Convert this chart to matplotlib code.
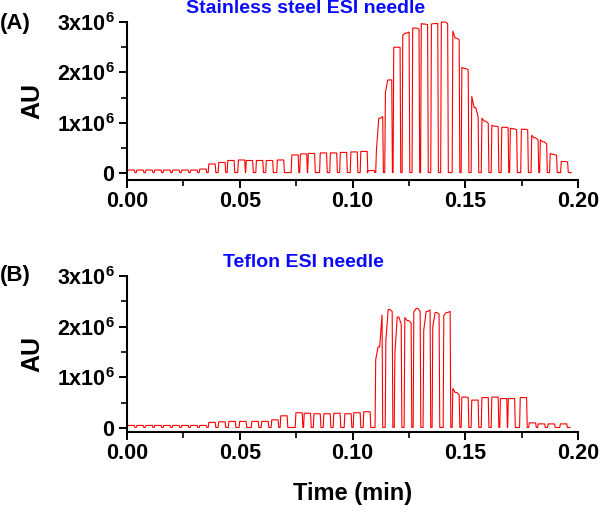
import matplotlib
matplotlib.use("Agg")
import matplotlib.pyplot as plt
import numpy as np

plt.rcParams['font.family'] = ['Liberation Sans', 'DejaVu Sans']
plt.rcParams['font.weight'] = 'bold'
plt.rcParams['mathtext.fontset'] = 'custom'
plt.rcParams['mathtext.rm'] = 'Liberation Sans:bold'
plt.rcParams['mathtext.bf'] = 'Liberation Sans:bold'
plt.rcParams['mathtext.default'] = 'bf'

# ---------------- data (time in min, intensity in units of 1e6) ----------------
# Panel A: stainless steel ESI needle -- pulse centre times, plateau start / end heights
a_times = [0.0018, 0.0058, 0.0098, 0.0137, 0.0177, 0.0217, 0.0257, 0.0297, 0.0337,
           0.0377, 0.0421, 0.0461, 0.0508, 0.0543, 0.0588, 0.0632, 0.0681, 0.0745,
           0.0783, 0.0818, 0.0871, 0.0916, 0.0960, 0.1007, 0.1051, 0.1082, 0.1120,
           0.1160, 0.1197, 0.1237, 0.1281, 0.1319, 0.1364, 0.1408, 0.1459, 0.1499,
           0.1543, 0.1588, 0.1632, 0.1676, 0.1714, 0.1763, 0.1809, 0.1847, 0.1891,
           0.1940]
a_start = [0.06, 0.06, 0.06, 0.06, 0.06, 0.06, 0.06, 0.06, 0.08,
           0.18, 0.21, 0.25, 0.26, 0.25, 0.25, 0.25, 0.26, 0.36,
           0.38, 0.39, 0.40, 0.40, 0.41, 0.42, 0.43, 0.05, 0.45,
           1.60, 2.50, 2.74, 2.88, 2.97, 2.96, 3.00, 2.82, 2.10,
           1.52, 1.09, 0.95, 0.91, 0.89, 0.87, 0.75, 0.66, 0.39,
           0.23]
a_mid = [0.06, 0.06, 0.06, 0.06, 0.06, 0.06, 0.06, 0.06, 0.08,
         0.18, 0.21, 0.25, 0.26, 0.25, 0.25, 0.25, 0.26, 0.36,
         0.38, 0.39, 0.40, 0.40, 0.41, 0.42, 0.43, 0.05, 1.09,
         1.85, 2.50, 2.78, 2.88, 2.96, 2.97, 3.00, 2.68, 2.08,
         1.30, 1.03, 0.93, 0.91, 0.88, 0.87, 0.70, 0.62, 0.37,
         0.23]
a_end = [0.06, 0.06, 0.06, 0.06, 0.06, 0.06, 0.06, 0.06, 0.08,
         0.18, 0.21, 0.25, 0.26, 0.25, 0.25, 0.25, 0.26, 0.36,
         0.38, 0.39, 0.40, 0.40, 0.41, 0.42, 0.43, 0.05, 1.12,
         1.85, 2.50, 2.80, 2.86, 2.95, 2.97, 2.97, 2.65, 2.05,
         1.12, 0.99, 0.92, 0.90, 0.86, 0.86, 0.66, 0.58, 0.35,
         0.22]
a_trace_end = 0.197

# Panel B: Teflon ESI needle
b_times = [0.0018, 0.0058, 0.0098, 0.0137, 0.0177, 0.0217, 0.0257, 0.0297, 0.0337,
           0.0377, 0.0421, 0.0466, 0.0514, 0.0568, 0.0612, 0.0656, 0.0696, 0.0763,
           0.0800, 0.0843, 0.0887, 0.0931, 0.0980, 0.1020, 0.1064, 0.1117, 0.1162,
           0.1202, 0.1246, 0.1286, 0.1330, 0.1370, 0.1419, 0.1459, 0.1499, 0.1543,
           0.1588, 0.1632, 0.1670, 0.1705, 0.1758, 0.1798, 0.1838, 0.1882, 0.1936]
b_start = [0.05, 0.05, 0.05, 0.05, 0.05, 0.05, 0.05, 0.05, 0.05,
           0.11, 0.12, 0.13, 0.13, 0.13, 0.13, 0.16, 0.24, 0.30,
           0.29, 0.28, 0.28, 0.29, 0.28, 0.30, 0.32, 1.35, 1.74,
           1.47, 2.18, 2.29, 1.93, 2.00, 2.22, 0.78, 0.61, 0.55,
           0.60, 0.61, 0.58, 0.58, 0.60, 0.10, 0.08, 0.08, 0.08]
b_mid = [0.05, 0.05, 0.05, 0.05, 0.05, 0.05, 0.05, 0.05, 0.05,
         0.11, 0.12, 0.13, 0.13, 0.13, 0.13, 0.16, 0.24, 0.30,
         0.29, 0.28, 0.28, 0.29, 0.28, 0.30, 0.32, 1.60, 2.34,
         2.19, 2.12, 2.36, 2.30, 2.28, 2.28, 0.70, 0.61, 0.55,
         0.60, 0.61, 0.58, 0.58, 0.60, 0.10, 0.08, 0.08, 0.08]
b_end = [0.05, 0.05, 0.05, 0.05, 0.05, 0.05, 0.05, 0.05, 0.05,
         0.11, 0.12, 0.13, 0.13, 0.13, 0.13, 0.16, 0.24, 0.30,
         0.29, 0.28, 0.28, 0.29, 0.28, 0.30, 0.32, 2.23, 2.30,
         2.05, 2.07, 2.30, 2.33, 2.25, 2.30, 0.65, 0.60, 0.55,
         0.60, 0.61, 0.58, 0.58, 0.60, 0.10, 0.08, 0.08, 0.08]
b_trace_end = 0.1965

baseline = 0.01
x_ticks = [0.00, 0.05, 0.10, 0.15, 0.20]
x_ticklabels = ['0.00', '0.05', '0.10', '0.15', '0.20']
y_ticks = [0, 1, 2, 3]
y_ticklabels = ['0', '1x10$^6$', '2x10$^6$', '3x10$^6$']
titles = ['Stainless steel ESI needle', 'Teflon ESI needle']
panel_labels = ['(A)', '(B)']


def build_trace(times, h0, hm, h1, t_end, half=0.0014, ramp=0.0003):
    xs, ys = [0.0], [baseline]
    for t, s, m, e in zip(times, h0, hm, h1):
        xs += [t - half - ramp, t - half, t - 0.25 * half, t + 0.25 * half,
               t + half, t + half + ramp]
        ys += [baseline, s, m, m, e, baseline]
    xs.append(t_end)
    ys.append(baseline)
    return np.array(xs), np.array(ys) * 1e6


fig = plt.figure(figsize=(6.0, 5.13), dpi=100)
axA = fig.add_axes([0.2117, 0.649, 0.7516, 0.308])
axB = fig.add_axes([0.2117, 0.158, 0.7516, 0.304])

panels = [(axA, a_times, a_start, a_mid, a_end, a_trace_end, -0.139e6),
          (axB, b_times, b_start, b_mid, b_end, b_trace_end, -0.079e6)]

for i, (ax, t, s, m, e, te, ybot) in enumerate(panels):
    xs, ys = build_trace(t, s, m, e, te)
    ax.plot(xs, ys, color='#ff0000', lw=0.8, clip_on=False)
    ax.set_xlim(0, 0.20)
    ax.set_ylim(ybot, 3.0e6)
    for sp in ['top', 'right']:
        ax.spines[sp].set_visible(False)
    for sp in ['left', 'bottom']:
        ax.spines[sp].set_linewidth(1.5)
    ax.set_xticks(x_ticks)
    ax.set_xticklabels(x_ticklabels)
    ax.set_xticks([0.025, 0.075, 0.125, 0.175], minor=True)
    ax.set_yticks([v * 1e6 for v in y_ticks])
    ax.set_yticklabels(y_ticklabels)
    ax.set_yticks([0.5e6, 1.5e6, 2.5e6], minor=True)
    ax.tick_params(which='major', direction='out', length=6, width=1.4,
                   labelsize=15.5, pad=3)
    ax.tick_params(axis='x', which='major', pad=2)
    ax.tick_params(which='minor', direction='out', length=4, width=1.2)
    for lab in ax.get_xticklabels() + ax.get_yticklabels():
        lab.set_fontweight('bold')
    ax.set_ylabel('AU', fontsize=18, fontweight='bold', labelpad=9)

fig.text(0.51, 0.984, titles[0], color='#0a0aff', fontsize=14,
         fontweight='bold', ha='center', va='center')
fig.text(0.505, 0.489, titles[1], color='#0a0aff', fontsize=14,
         fontweight='bold', ha='center', va='center')
fig.text(0.0, 0.955, panel_labels[0], fontsize=16, fontweight='bold',
         ha='left', va='center')
fig.text(0.0, 0.462, panel_labels[1], fontsize=16, fontweight='bold',
         ha='left', va='center')
fig.text(0.587, 0.038, 'Time (min)', fontsize=17, fontweight='bold',
         ha='center', va='center')

fig.savefig('out.png', dpi=100)
